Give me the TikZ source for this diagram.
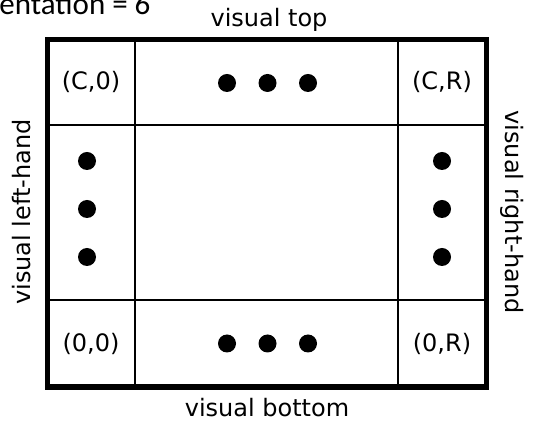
\documentclass[tikz,border=0pt]{standalone}
\usepackage{fontspec}
\setmainfont{DejaVu Sans}
\newfontfamily\titlefont{Carlito}

\begin{document}
\begin{tikzpicture}[x=0.5pt,y=-0.5pt]
	 \tikzstyle{frame}=[draw,black,line width=2.8pt]
	 \tikzstyle{grid}=[draw,black,line width=1.4pt]
	 \tikzstyle{dot}=[circle,fill=black,inner sep=0pt,minimum size=9pt]
	 \tikzstyle{cell}=[font=\fontsize{12}{14}\selectfont,inner sep=0pt]
	 \tikzstyle{side}=[font=\fontsize{12}{14}\selectfont,inner sep=0pt]

	 \useasboundingbox (0,0) rectangle (535,426);

	 % clipped caption
	 \node[anchor=base west,inner sep=0pt,font=\titlefont\fontsize{15.5}{17}\selectfont] (cap) at (-1,15) {entation = 6};

	 % cells
	 \draw[grid] (135,39.5) -- (135,387);
	 \draw[grid] (398,39.5) -- (398,387);
	 \draw[grid] (47.5,125) -- (486.5,125);
	 \draw[grid] (47.5,300) -- (486.5,300);
	 \draw[frame] (47.5,39.5) rectangle (486.5,387);

	 \node[cell] (c0) at (91,82) 		{(C,0)};
	 \node[cell] (cr) at (442,82) 		{(C,R)};
	 \node[cell] (z0) at (91,343.5) 	{(0,0)};
	 \node[cell] (zr) at (442,343.5) 	{(0,R)};

	 \node[dot] (t1) at (227,83) {};
	 \node[dot] (t2) at (267.5,83) {};
	 \node[dot] (t3) at (308,83) {};
	 \node[dot] (b1) at (227,343.5) {};
	 \node[dot] (b2) at (267.5,343.5) {};
	 \node[dot] (b3) at (308,343.5) {};
	 \node[dot] (l1) at (87,161) {};
	 \node[dot] (l2) at (87,209) {};
	 \node[dot] (l3) at (87,257) {};
	 \node[dot] (r1) at (442,161) {};
	 \node[dot] (r2) at (442,209) {};
	 \node[dot] (r3) at (442,257) {};

	 % side labels
	 \node[side,anchor=base] (top) at (269,27) {visual top};
	 \node[side,anchor=base] (bottom) at (267,417) {visual bottom};
	 \node[side,rotate=90] (left) at (22,212) {visual left-hand};
	 \node[side,rotate=-90] (right) at (512,212) {visual right-hand};
\end{tikzpicture}
\end{document}
